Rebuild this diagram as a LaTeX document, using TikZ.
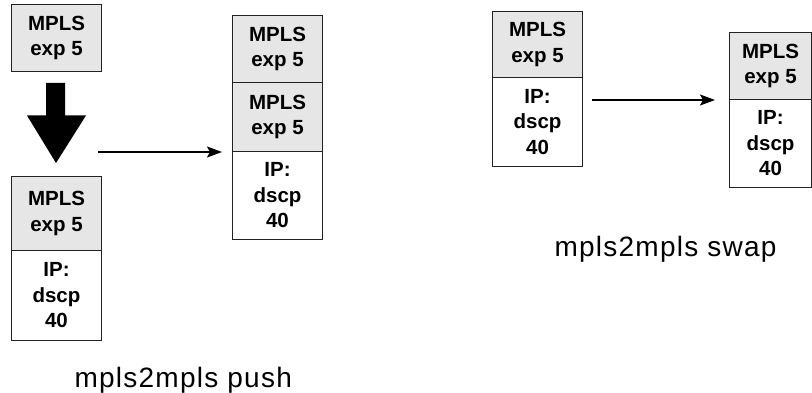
\documentclass[tikz,border=0pt]{standalone}
\usepackage{fontspec}
\setmainfont{Liberation Sans}
\newfontfamily\capfont[LetterSpace=4.5]{Liberation Sans}
\usetikzlibrary{arrows.meta}
\definecolor{cellgray}{HTML}{E6E6E6}
\definecolor{edge}{HTML}{222222}
\tikzset{
  cell/.style={draw=edge, line width=1pt, anchor=north west, inner sep=0pt,
    minimum width=90pt, align=center, font=\fontsize{20.5}{25.5}\selectfont\bfseries},
  mplscell/.style={cell, fill=cellgray},
  ipcell/.style={cell, fill=white},
  conn/.style={-{Stealth[length=15pt,width=11pt,inset=3pt]}, line width=1.4pt, draw=black},
  caption/.style={font=\capfont\fontsize{28}{33}\selectfont}
}
\begin{document}
\begin{tikzpicture}[x=1pt,y=-1pt]
\useasboundingbox (0,0) rectangle (812,393);
% push: source
\node[mplscell, minimum height=67pt] (s1) at (11,4) {MPLS\\exp 5};
% big arrow
\fill[black] (46,83) -- (65,83) -- (65,115.5) -- (86,115.5) -- (56,163) -- (27,115.5) -- (46,115.5) -- cycle;
% push: lower
\node[mplscell, minimum height=74pt] (l1) at (11,176) {MPLS\\exp 5};
\node[ipcell, minimum height=90pt] (l2) at (11,250) {IP:\\dscp\\40};
% push: result
\node[mplscell, minimum height=67pt] (p1) at (232,15) {MPLS\\exp 5};
\node[mplscell, minimum height=69pt] (p2) at (232,82) {MPLS\\exp 5};
\node[ipcell, minimum height=88pt] (p3) at (232,151) {IP:\\dscp\\40};
\coordinate (pa) at (98,152);
\coordinate (pb) at (222,152);
\draw[conn] (pa) -- (pb);
\node[caption, anchor=west] (cap1) at (71,380) {mpls2mpls push};
% swap
\node[mplscell, minimum height=66pt] (w1) at (492,11) {MPLS\\exp 5};
\node[ipcell, minimum height=89pt] (w2) at (492,77) {IP:\\dscp\\40};
\node[mplscell, minimum height=67pt, minimum width=82pt] (r1) at (729,32) {MPLS\\exp 5};
\node[ipcell, minimum height=88pt, minimum width=82pt] (r2) at (729,99) {IP:\\dscp\\40};
\coordinate (sa) at (592,100);
\coordinate (sb) at (715,100);
\draw[conn] (sa) -- (sb);
\node[caption, anchor=west] (cap2) at (551,249) {mpls2mpls swap};
\end{tikzpicture}
\end{document}
